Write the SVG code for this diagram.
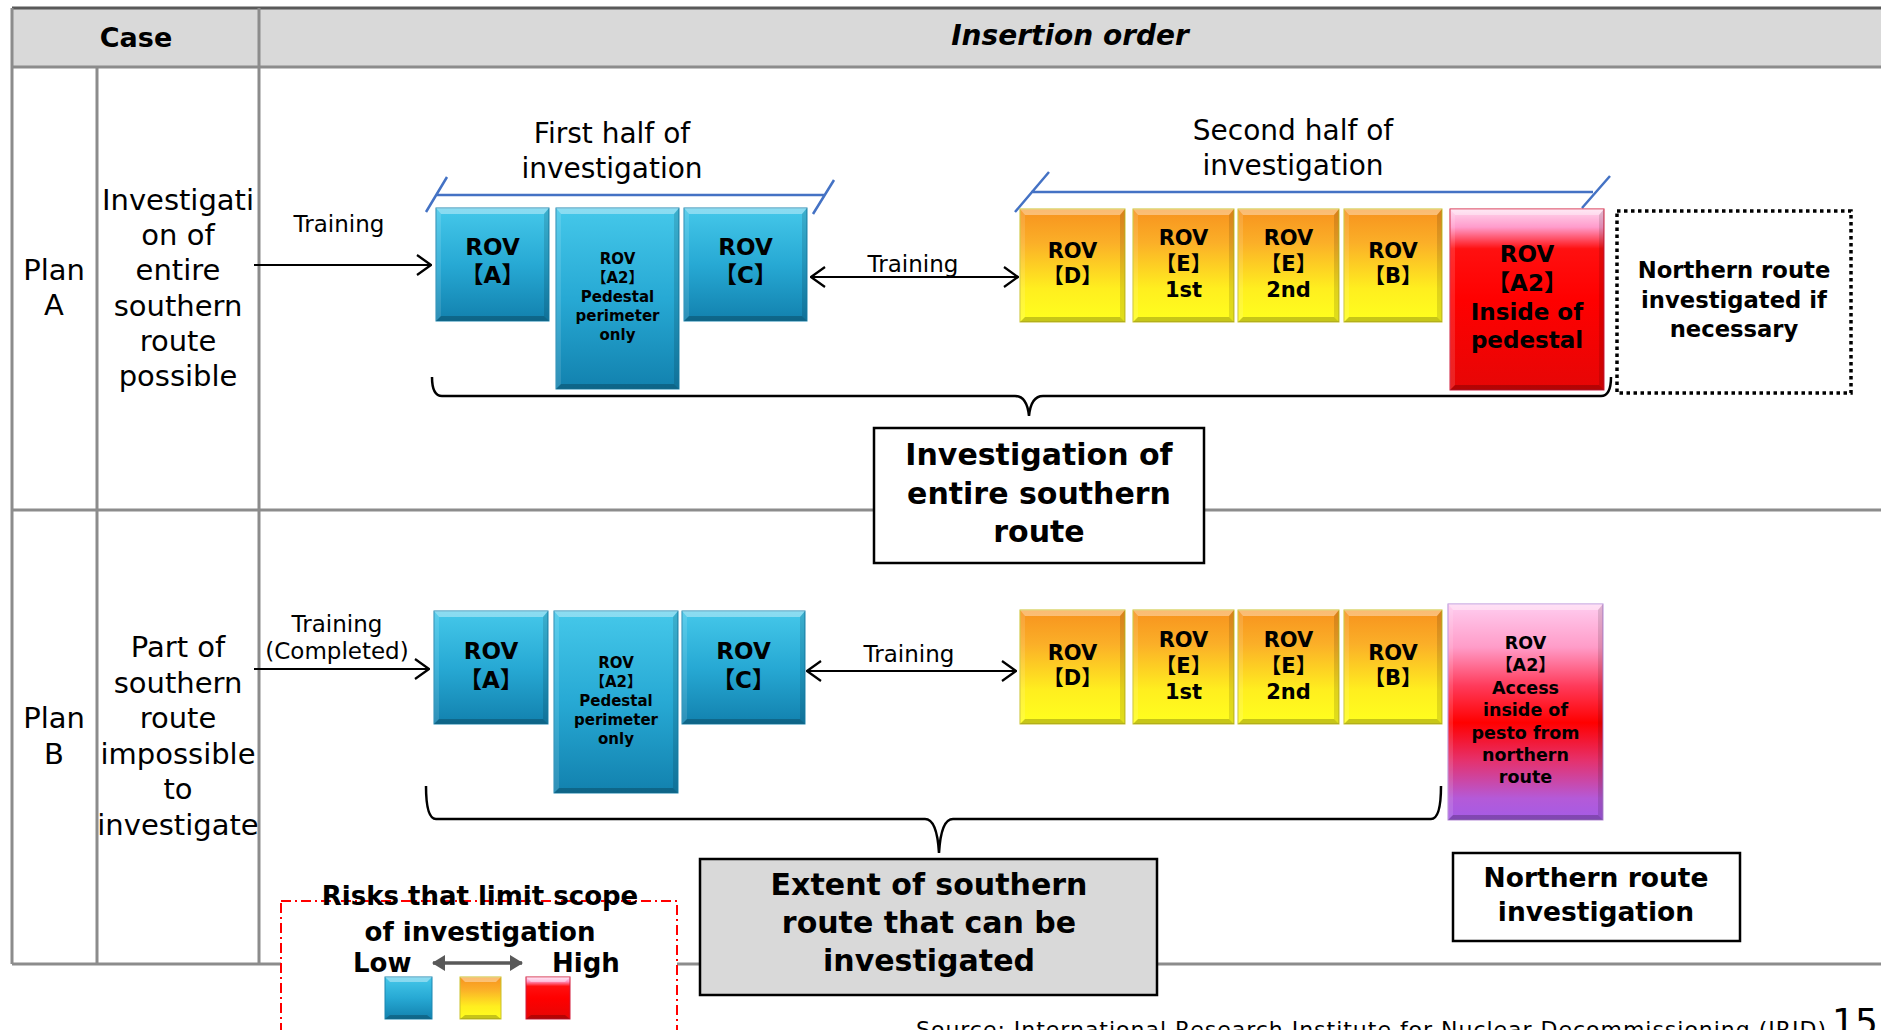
<svg xmlns="http://www.w3.org/2000/svg" width="1881" height="1030" viewBox="0 0 1881 1030">
<defs>
<style>
text{font-family:'DejaVu Sans','Noto Sans CJK JP',sans-serif;fill:#000;text-anchor:middle}
.b{font-weight:bold}
.grid{stroke:#8c8c8c;stroke-width:3;fill:none}
.bt{fill:#fff;fill-opacity:.38}
.bb{fill:#000;fill-opacity:.22}
.bl{fill:#fff;fill-opacity:.12}
.br{fill:#000;fill-opacity:.12}
.blue{fill:url(#gBlue);stroke:#1c86b0;stroke-width:1}
.yel{fill:url(#gYel);stroke:#c9c22a;stroke-width:1}
.red{fill:url(#gRed);stroke:#d11a3a;stroke-width:1}
.pink{fill:url(#gPink);stroke:#b58ad8;stroke-width:1}
.conn{stroke:#000;stroke-width:2.2;fill:none}
.brk{stroke:#000;stroke-width:2.5;fill:none}
.half{stroke:#4472c4;stroke-width:2.5;fill:none}
.lbl{font-size:23px}
.frame{fill:#fff;stroke:#000;stroke-width:2.5}
</style>
<linearGradient id="gBlue" x1="0" y1="0" x2="0" y2="1">
<stop offset="0" stop-color="#45c8ea"/><stop offset="0.5" stop-color="#27a9d4"/><stop offset="1" stop-color="#1281ae"/>
</linearGradient>
<linearGradient id="gYel" x1="0" y1="0" x2="0" y2="1">
<stop offset="0" stop-color="#f7921e"/><stop offset="0.3" stop-color="#fbaf28"/><stop offset="0.7" stop-color="#ffee1f"/><stop offset="1" stop-color="#ffff1e"/>
</linearGradient>
<linearGradient id="gRed" x1="0" y1="0" x2="0" y2="1">
<stop offset="0" stop-color="#ffd8ee"/><stop offset="0.1" stop-color="#ff9ccc"/><stop offset="0.22" stop-color="#ff1010"/><stop offset="0.5" stop-color="#ff0000"/><stop offset="1" stop-color="#e60606"/>
</linearGradient>
<linearGradient id="gPink" x1="0" y1="0" x2="0" y2="1">
<stop offset="0" stop-color="#ffcdf0"/><stop offset="0.2" stop-color="#ff9cc8"/><stop offset="0.38" stop-color="#ff3a5a"/><stop offset="0.55" stop-color="#ff0000"/><stop offset="0.72" stop-color="#e6306a"/><stop offset="0.9" stop-color="#b45ad8"/><stop offset="1" stop-color="#a45ce6"/>
</linearGradient>
<marker id="open" viewBox="0 0 16 22" refX="15" refY="11" markerWidth="16" markerHeight="22" markerUnits="userSpaceOnUse" orient="auto-start-reverse">
<path d="M1,1 L15,11 L1,21" fill="none" stroke="#000" stroke-width="2.2"/>
</marker>
<marker id="tri" viewBox="0 0 13 16" refX="12" refY="8" markerWidth="13" markerHeight="16" markerUnits="userSpaceOnUse" orient="auto-start-reverse">
<path d="M0,0 L13,8 L0,16 z" fill="#595959"/>
</marker>
</defs>

<rect x="0" y="0" width="1881" height="1030" fill="#fff"/>

<g id="table">
<rect x="12" y="8" width="1875" height="59" fill="#d9d9d9"/>
<line x1="12" y1="8" x2="1881" y2="8" stroke="#595959" stroke-width="3"/>
<line class="grid" x1="12" y1="67" x2="1881" y2="67"/>
<line class="grid" x1="12" y1="510" x2="1881" y2="510"/>
<line class="grid" x1="12" y1="964" x2="1881" y2="964"/>
<line class="grid" x1="12" y1="8" x2="12" y2="964"/>
<line class="grid" x1="97" y1="67" x2="97" y2="964"/>
<line class="grid" x1="259" y1="8" x2="259" y2="964"/>
<text class="b" x="136" y="47" font-size="27">Case</text>
<text class="b" x="1070" y="45" font-size="28" font-style="italic">Insertion order</text>
<text x="54" y="280" font-size="29"><tspan x="54">Plan</tspan><tspan x="54" dy="35">A</tspan></text>
<text x="178" y="210" font-size="29"><tspan x="178">Investigati</tspan><tspan x="178" dy="35.2">on of</tspan><tspan x="178" dy="35.2">entire</tspan><tspan x="178" dy="35.2">southern</tspan><tspan x="178" dy="35.2">route</tspan><tspan x="178" dy="35.2">possible</tspan></text>
<text x="54" y="728" font-size="29"><tspan x="54">Plan</tspan><tspan x="54" dy="35.5">B</tspan></text>
<text x="178" y="657" font-size="29"><tspan x="178">Part of</tspan><tspan x="178" dy="35.5">southern</tspan><tspan x="178" dy="35.5">route</tspan><tspan x="178" dy="35.5">impossible</tspan><tspan x="178" dy="35.5">to</tspan><tspan x="178" dy="35.5">investigate</tspan></text>
</g>

<g id="connectors">
<line class="conn" x1="254" y1="265" x2="431" y2="265" marker-end="url(#open)"/>
<line class="conn" x1="811" y1="277" x2="1018" y2="277" marker-start="url(#open)" marker-end="url(#open)"/>
<line class="conn" x1="254" y1="669" x2="429" y2="669" marker-end="url(#open)"/>
<line class="conn" x1="807" y1="671" x2="1016" y2="671" marker-start="url(#open)" marker-end="url(#open)"/>
<path class="brk" d="M432,377 Q432,396 442,396 L1015,396 Q1027,396 1029,416 Q1031,396 1043,396 L1601,396 Q1611,396 1611,377"/>
<path class="brk" d="M426,786 Q426,819 436,819 L925,819 Q937,819 939,853 Q941,819 953,819 L1431,819 Q1441,819 1441,786"/>
<path class="half" d="M436,195 L825,195 M426,212 L447,177 M813,214 L834,180"/>
<path class="half" d="M1031,192 L1593,192 M1015,212 L1049,172 M1582,208 L1610,176"/>
</g>

<g id="labels">
<text class="lbl" x="339" y="232">Training</text>
<text class="lbl" x="913" y="272">Training</text>
<text class="lbl" x="337" y="632"><tspan x="337">Training</tspan><tspan x="337" dy="27">(Completed)</tspan></text>
<text class="lbl" x="909" y="662">Training</text>
<text x="612" y="143" font-size="28"><tspan x="612">First half of</tspan><tspan x="612" dy="35">investigation</tspan></text>
<text x="1293" y="140" font-size="28"><tspan x="1293">Second half of</tspan><tspan x="1293" dy="35">investigation</tspan></text>
</g>

<!-- Plan A boxes -->
<g id="pa-rovA">
<rect class="blue" x="436" y="208" width="113" height="113"/>
<polygon class="bt" points="436,208 549,208 544,214 441,214"/><polygon class="bb" points="436,321 549,321 544,316 441,316"/><polygon class="bl" points="436,208 441,214 441,316 436,321"/><polygon class="br" points="549,208 544,214 544,316 549,321"/>
<text class="b" font-size="23" x="492.5" y="255"><tspan x="492.5">ROV</tspan><tspan x="492.5" dy="28">【A】</tspan></text>
</g>
<g id="pa-rovA2">
<rect class="blue" x="556" y="208" width="123" height="181"/>
<polygon class="bt" points="556,208 679,208 674,214 561,214"/><polygon class="bb" points="556,389 679,389 674,384 561,384"/><polygon class="bl" points="556,208 561,214 561,384 556,389"/><polygon class="br" points="679,208 674,214 674,384 679,389"/>
<text class="b" font-size="15" x="617.5" y="264"><tspan x="617.5">ROV</tspan><tspan x="617.5" dy="19">【A2】</tspan><tspan x="617.5" dy="19">Pedestal</tspan><tspan x="617.5" dy="19">perimeter</tspan><tspan x="617.5" dy="19">only</tspan></text>
</g>
<g id="pa-rovC">
<rect class="blue" x="684" y="208" width="123" height="113"/>
<polygon class="bt" points="684,208 807,208 802,214 689,214"/><polygon class="bb" points="684,321 807,321 802,316 689,316"/><polygon class="bl" points="684,208 689,214 689,316 684,321"/><polygon class="br" points="807,208 802,214 802,316 807,321"/>
<text class="b" font-size="23" x="745.5" y="255"><tspan x="745.5">ROV</tspan><tspan x="745.5" dy="28">【C】</tspan></text>
</g>
<g id="pa-rovD">
<rect class="yel" x="1020" y="209" width="105" height="113"/>
<polygon class="bt" points="1020,209 1125,209 1120,215 1025,215"/><polygon class="bb" points="1020,322 1125,322 1120,317 1025,317"/><polygon class="bl" points="1020,209 1025,215 1025,317 1020,322"/><polygon class="br" points="1125,209 1120,215 1120,317 1125,322"/>
<text class="b" font-size="21" x="1072.5" y="258"><tspan x="1072.5">ROV</tspan><tspan x="1072.5" dy="25">【D】</tspan></text>
</g>
<g id="pa-rovE1">
<rect class="yel" x="1133" y="209" width="101" height="113"/>
<polygon class="bt" points="1133,209 1234,209 1229,215 1138,215"/><polygon class="bb" points="1133,322 1234,322 1229,317 1138,317"/><polygon class="bl" points="1133,209 1138,215 1138,317 1133,322"/><polygon class="br" points="1234,209 1229,215 1229,317 1234,322"/>
<text class="b" font-size="21" x="1183.5" y="245"><tspan x="1183.5">ROV</tspan><tspan x="1183.5" dy="26">【E】</tspan><tspan x="1183.5" dy="26">1st</tspan></text>
</g>
<g id="pa-rovE2">
<rect class="yel" x="1238" y="209" width="101" height="113"/>
<polygon class="bt" points="1238,209 1339,209 1334,215 1243,215"/><polygon class="bb" points="1238,322 1339,322 1334,317 1243,317"/><polygon class="bl" points="1238,209 1243,215 1243,317 1238,322"/><polygon class="br" points="1339,209 1334,215 1334,317 1339,322"/>
<text class="b" font-size="21" x="1288.5" y="245"><tspan x="1288.5">ROV</tspan><tspan x="1288.5" dy="26">【E】</tspan><tspan x="1288.5" dy="26">2nd</tspan></text>
</g>
<g id="pa-rovB">
<rect class="yel" x="1344" y="209" width="98" height="113"/>
<polygon class="bt" points="1344,209 1442,209 1437,215 1349,215"/><polygon class="bb" points="1344,322 1442,322 1437,317 1349,317"/><polygon class="bl" points="1344,209 1349,215 1349,317 1344,322"/><polygon class="br" points="1442,209 1437,215 1437,317 1442,322"/>
<text class="b" font-size="21" x="1393" y="258"><tspan x="1393">ROV</tspan><tspan x="1393" dy="25">【B】</tspan></text>
</g>
<g id="pa-rovA2-inside">
<rect class="red" x="1450" y="209" width="154" height="181"/>
<polygon class="bt" points="1450,209 1604,209 1599,215 1455,215"/><polygon class="bb" points="1450,390 1604,390 1599,385 1455,385"/><polygon class="bl" points="1450,209 1455,215 1455,385 1450,390"/><polygon class="br" points="1604,209 1599,215 1599,385 1604,390"/>
<text class="b" font-size="23" x="1527" y="262"><tspan x="1527">ROV</tspan><tspan x="1527" dy="28.5">【A2】</tspan><tspan x="1527" dy="29">Inside of</tspan><tspan x="1527" dy="28.5">pedestal</tspan></text>
</g>
<g id="pa-northern">
<rect x="1617" y="211" width="234" height="182" fill="#fff" stroke="#000" stroke-width="3.5" stroke-dasharray="3.5 3.5"/>
<text class="b" font-size="22.7" x="1734" y="278"><tspan x="1734">Northern route</tspan><tspan x="1734" dy="29.5">investigated if</tspan><tspan x="1734" dy="29.5">necessary</tspan></text>
</g>
<g id="pa-summary">
<rect class="frame" x="874" y="428" width="330" height="135"/>
<text class="b" font-size="30" x="1039" y="465"><tspan x="1039">Investigation of</tspan><tspan x="1039" dy="38.5">entire southern</tspan><tspan x="1039" dy="38.5">route</tspan></text>
</g>

<!-- Plan B boxes -->
<g id="pb-rovA">
<rect class="blue" x="434" y="611" width="114" height="113"/>
<polygon class="bt" points="434,611 548,611 543,617 439,617"/><polygon class="bb" points="434,724 548,724 543,719 439,719"/><polygon class="bl" points="434,611 439,617 439,719 434,724"/><polygon class="br" points="548,611 543,617 543,719 548,724"/>
<text class="b" font-size="23" x="491" y="659"><tspan x="491">ROV</tspan><tspan x="491" dy="28.5">【A】</tspan></text>
</g>
<g id="pb-rovA2">
<rect class="blue" x="554" y="611" width="124" height="182"/>
<polygon class="bt" points="554,611 678,611 673,617 559,617"/><polygon class="bb" points="554,793 678,793 673,788 559,788"/><polygon class="bl" points="554,611 559,617 559,788 554,793"/><polygon class="br" points="678,611 673,617 673,788 678,793"/>
<text class="b" font-size="15" x="616" y="668"><tspan x="616">ROV</tspan><tspan x="616" dy="19">【A2】</tspan><tspan x="616" dy="19">Pedestal</tspan><tspan x="616" dy="19">perimeter</tspan><tspan x="616" dy="19">only</tspan></text>
</g>
<g id="pb-rovC">
<rect class="blue" x="682" y="611" width="123" height="113"/>
<polygon class="bt" points="682,611 805,611 800,617 687,617"/><polygon class="bb" points="682,724 805,724 800,719 687,719"/><polygon class="bl" points="682,611 687,617 687,719 682,724"/><polygon class="br" points="805,611 800,617 800,719 805,724"/>
<text class="b" font-size="23" x="743.5" y="659"><tspan x="743.5">ROV</tspan><tspan x="743.5" dy="28.5">【C】</tspan></text>
</g>
<g id="pb-rovD">
<rect class="yel" x="1020" y="610" width="105" height="114"/>
<polygon class="bt" points="1020,610 1125,610 1120,616 1025,616"/><polygon class="bb" points="1020,724 1125,724 1120,719 1025,719"/><polygon class="bl" points="1020,610 1025,616 1025,719 1020,724"/><polygon class="br" points="1125,610 1120,616 1120,719 1125,724"/>
<text class="b" font-size="21" x="1072.5" y="660"><tspan x="1072.5">ROV</tspan><tspan x="1072.5" dy="25">【D】</tspan></text>
</g>
<g id="pb-rovE1">
<rect class="yel" x="1133" y="610" width="101" height="114"/>
<polygon class="bt" points="1133,610 1234,610 1229,616 1138,616"/><polygon class="bb" points="1133,724 1234,724 1229,719 1138,719"/><polygon class="bl" points="1133,610 1138,616 1138,719 1133,724"/><polygon class="br" points="1234,610 1229,616 1229,719 1234,724"/>
<text class="b" font-size="21" x="1183.5" y="647"><tspan x="1183.5">ROV</tspan><tspan x="1183.5" dy="26">【E】</tspan><tspan x="1183.5" dy="26">1st</tspan></text>
</g>
<g id="pb-rovE2">
<rect class="yel" x="1238" y="610" width="101" height="114"/>
<polygon class="bt" points="1238,610 1339,610 1334,616 1243,616"/><polygon class="bb" points="1238,724 1339,724 1334,719 1243,719"/><polygon class="bl" points="1238,610 1243,616 1243,719 1238,724"/><polygon class="br" points="1339,610 1334,616 1334,719 1339,724"/>
<text class="b" font-size="21" x="1288.5" y="647"><tspan x="1288.5">ROV</tspan><tspan x="1288.5" dy="26">【E】</tspan><tspan x="1288.5" dy="26">2nd</tspan></text>
</g>
<g id="pb-rovB">
<rect class="yel" x="1344" y="610" width="98" height="114"/>
<polygon class="bt" points="1344,610 1442,610 1437,616 1349,616"/><polygon class="bb" points="1344,724 1442,724 1437,719 1349,719"/><polygon class="bl" points="1344,610 1349,616 1349,719 1344,724"/><polygon class="br" points="1442,610 1437,616 1437,719 1442,724"/>
<text class="b" font-size="21" x="1393" y="660"><tspan x="1393">ROV</tspan><tspan x="1393" dy="25">【B】</tspan></text>
</g>
<g id="pb-rovA2-north">
<rect class="pink" x="1448" y="604" width="155" height="216"/>
<polygon class="bt" points="1448,604 1603,604 1598,610 1453,610"/><polygon class="bb" points="1448,820 1603,820 1598,815 1453,815"/><polygon class="bl" points="1448,604 1453,610 1453,815 1448,820"/><polygon class="br" points="1603,604 1598,610 1598,815 1603,820"/>
<text class="b" font-size="17.5" x="1525.5" y="649"><tspan x="1525.5">ROV</tspan><tspan x="1525.5" dy="22.4">【A2】</tspan><tspan x="1525.5" dy="22.4">Access</tspan><tspan x="1525.5" dy="22.4">inside of</tspan><tspan x="1525.5" dy="22.4">pesto from</tspan><tspan x="1525.5" dy="22.4">northern</tspan><tspan x="1525.5" dy="22.4">route</tspan></text>
</g>
<g id="pb-summary">
<rect x="700" y="859" width="457" height="136" fill="#d9d9d9" stroke="#000" stroke-width="2.5"/>
<text class="b" font-size="30" x="929" y="895"><tspan x="929">Extent of southern</tspan><tspan x="929" dy="38">route that can be</tspan><tspan x="929" dy="38">investigated</tspan></text>
</g>
<g id="pb-northern">
<rect class="frame" x="1453" y="853" width="287" height="88"/>
<text class="b" font-size="26.5" x="1596" y="887"><tspan x="1596">Northern route</tspan><tspan x="1596" dy="34">investigation</tspan></text>
</g>

<g id="legend">
<rect x="281" y="901" width="396" height="150" fill="#fff" stroke="#ff0000" stroke-width="2" stroke-dasharray="10 4 2 4"/>
<text class="b" font-size="26" x="480" y="905"><tspan x="480">Risks that limit scope</tspan><tspan x="480" dy="35.5">of investigation</tspan></text>
<text class="b" font-size="26" x="353" y="972" style="text-anchor:start">Low</text>
<text class="b" font-size="26" x="552" y="972" style="text-anchor:start">High</text>
<line x1="433" y1="963" x2="522" y2="963" stroke="#595959" stroke-width="3.5" marker-start="url(#tri)" marker-end="url(#tri)"/>
<rect class="blue" x="385" y="977" width="47" height="42"/>
<polygon class="bt" points="385,977 432,977 427,982 390,982"/><polygon class="bb" points="385,1019 432,1019 427,1015 390,1015"/>
<rect class="yel" x="460" y="977" width="41" height="42"/>
<polygon class="bt" points="460,977 501,977 496,982 465,982"/><polygon class="bb" points="460,1019 501,1019 496,1015 465,1015"/>
<rect class="red" x="526" y="977" width="44" height="42"/>
<polygon class="bt" points="526,977 570,977 565,982 531,982"/><polygon class="bb" points="526,1019 570,1019 565,1015 531,1015"/>
</g>

<g id="footer">
<text x="916" y="1037" font-size="22" style="text-anchor:start" textLength="910">Source: International Research Institute for Nuclear Decommissioning (IRID)</text>
<text x="1832" y="1034" font-size="36" style="text-anchor:start">15</text>
</g>
</svg>
